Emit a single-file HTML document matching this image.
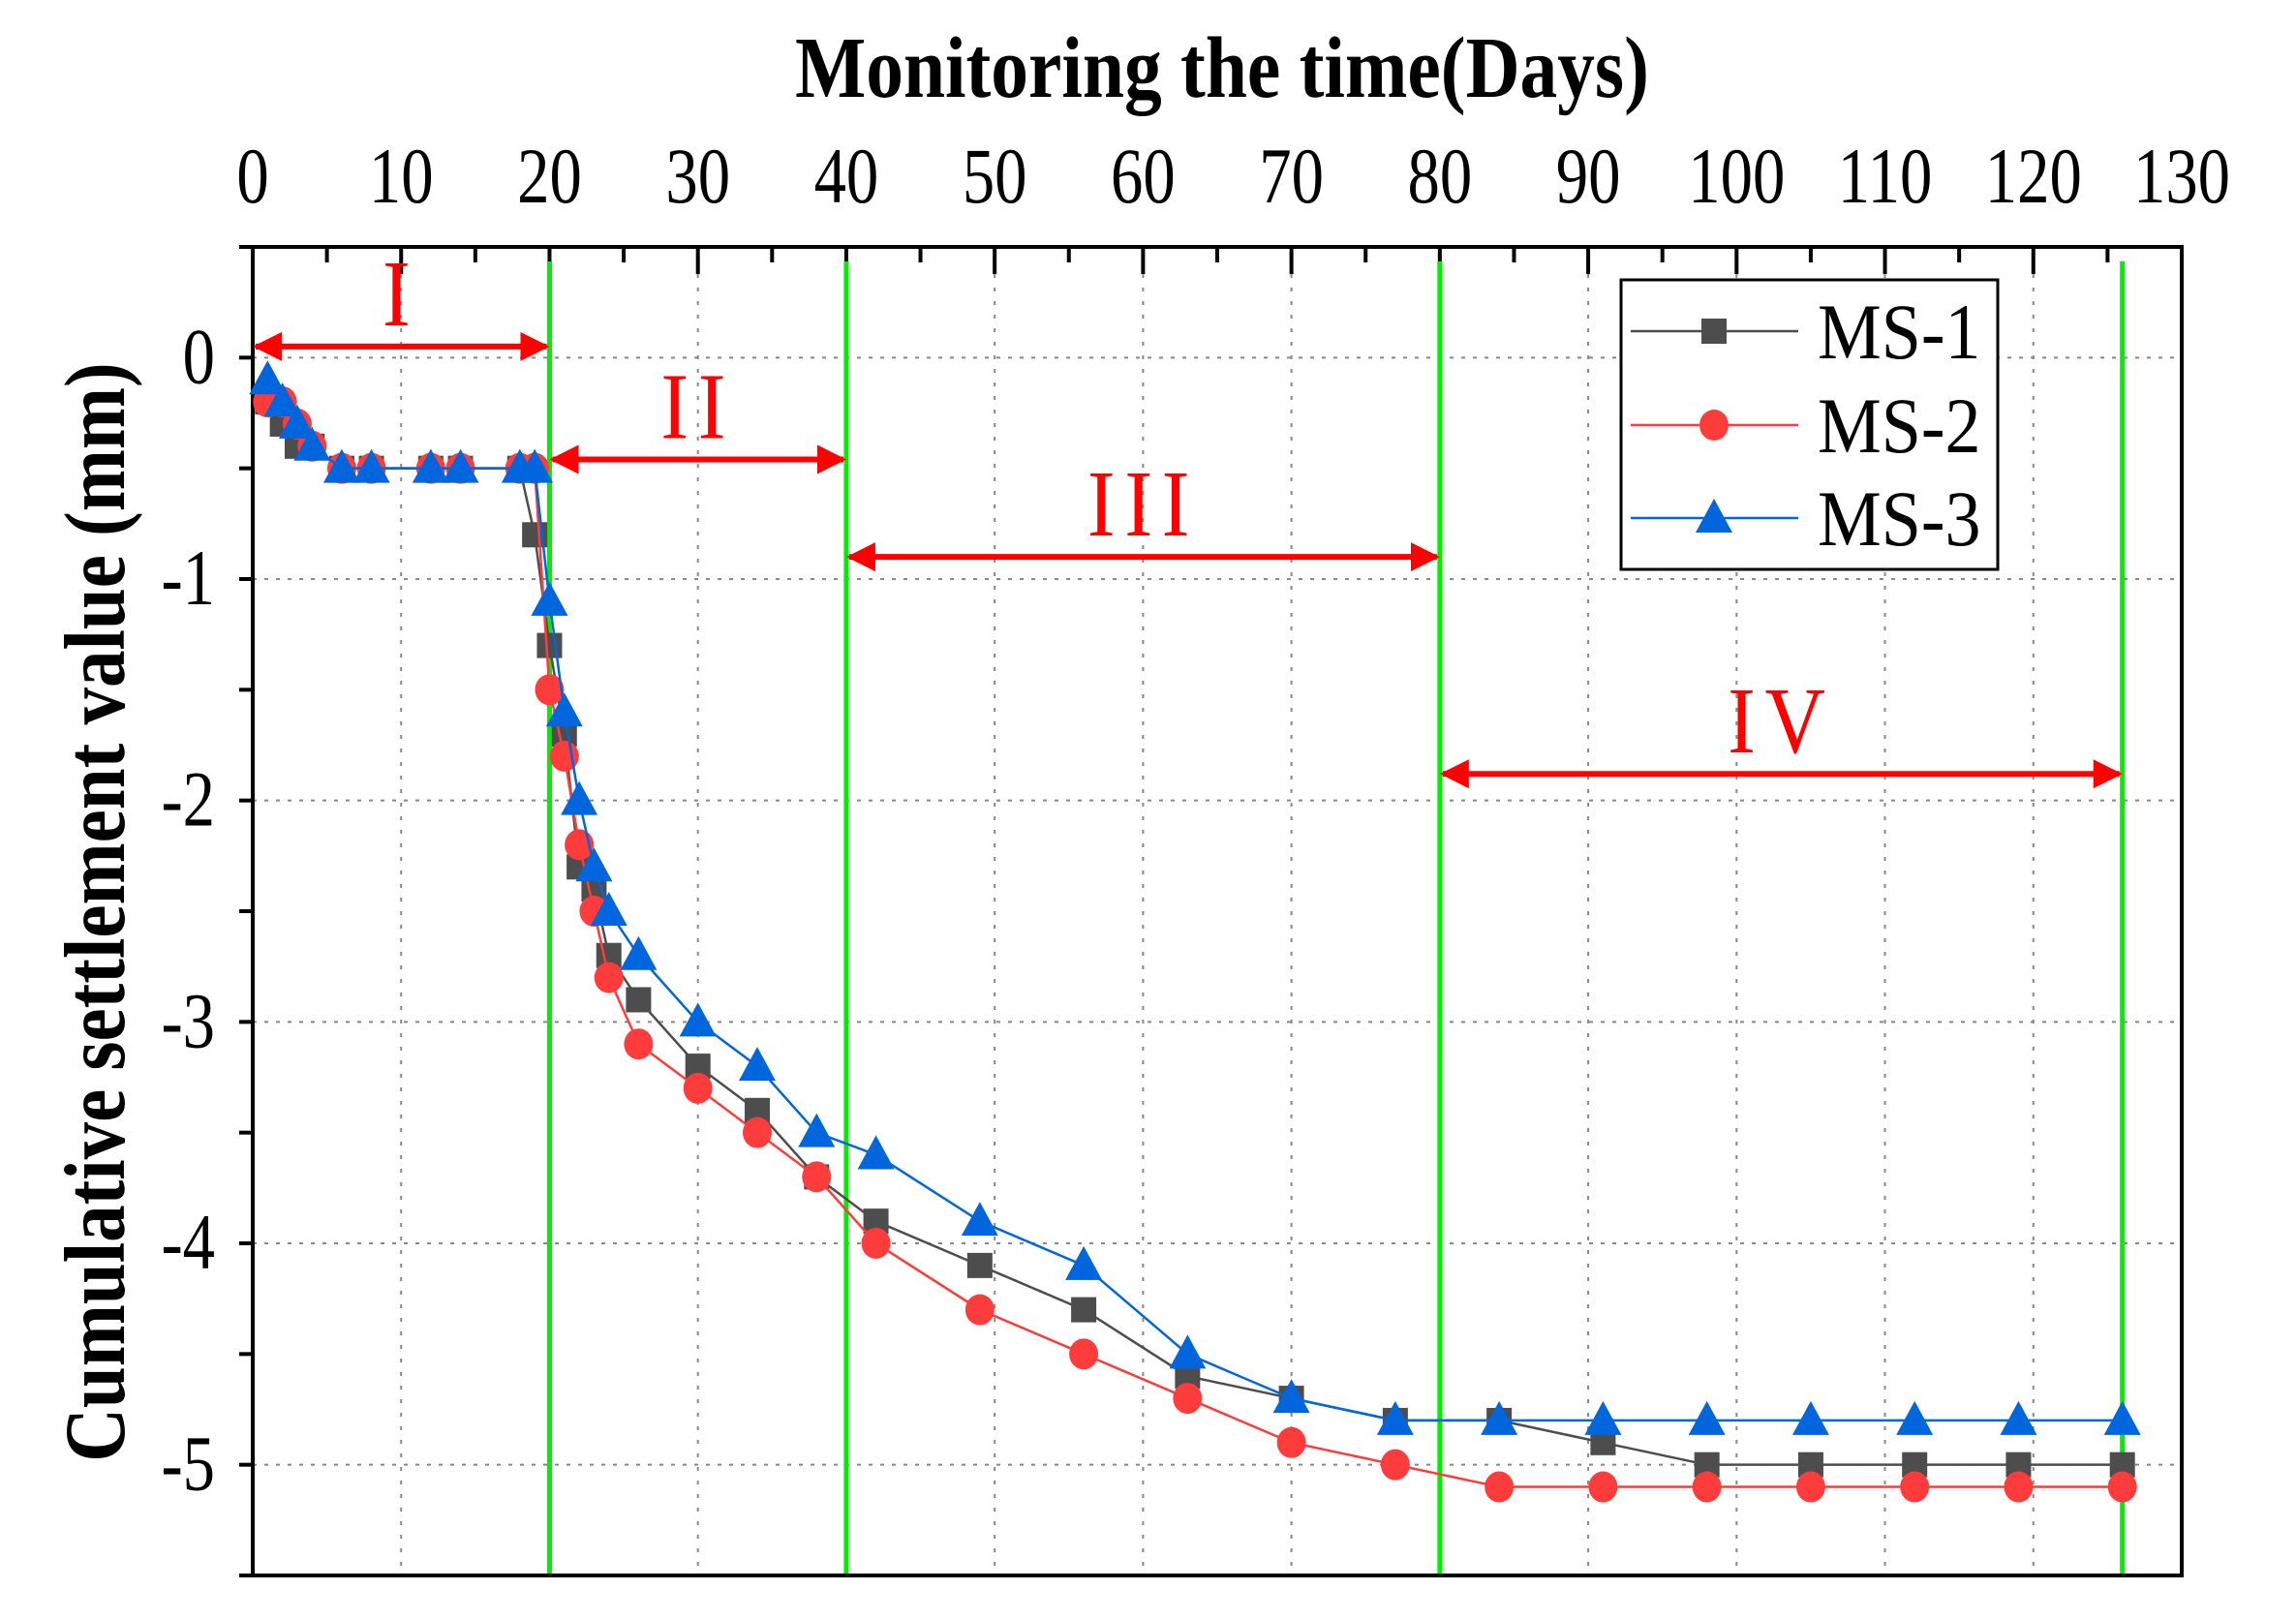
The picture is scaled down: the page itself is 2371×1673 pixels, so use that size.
<!DOCTYPE html>
<html><head><meta charset="utf-8"><style>
html,body{margin:0;padding:0;background:#fff}
svg{display:block;font-family:"Liberation Serif",serif}
</style></head><body>
<svg id="chart" width="2371" height="1673" viewBox="0 0 2371 1673" xmlns="http://www.w3.org/2000/svg">
<defs>
<marker id="ah" viewBox="0 0 10 10" refX="9" refY="5" markerWidth="5" markerHeight="5" orient="auto-start-reverse"><path d="M0,0 L10,5 L0,10 z" fill="#ff0000"/></marker>
</defs>
<g id="grid"></g>
<g id="axes"></g>
<g id="phases"></g>
<g id="series"></g>
<text transform="translate(1262,100) scale(1.21,1.4)" text-anchor="middle" font-size="64" font-weight="bold">Monitoring the time(Days)</text>
<text transform="translate(128,942) rotate(-90) scale(1,1.15)" text-anchor="middle" font-size="77" font-weight="bold">Cumulative settlement value (mm)</text>
<g id="legend"></g>
</svg>
<script>
const days = [1,2,3,4,6,8,12,14,18,19,20,21,22,23,24,26,30,34,38,42,49,56,63,70,77,84,91,98,105,112,119,126];
const ms1 = [-0.2,-0.3,-0.4,-0.4,-0.5,-0.5,-0.5,-0.5,-0.5,-0.8,-1.3,-1.7,-2.3,-2.4,-2.7,-2.9,-3.2,-3.4,-3.7,-3.9,-4.1,-4.3,-4.6,-4.7,-4.8,-4.8,-4.9,-5.0,-5.0,-5.0,-5.0,-5.0];
const ms2 = [-0.2,-0.2,-0.3,-0.4,-0.5,-0.5,-0.5,-0.5,-0.5,-0.5,-1.5,-1.8,-2.2,-2.5,-2.8,-3.1,-3.3,-3.5,-3.7,-4.0,-4.3,-4.5,-4.7,-4.9,-5.0,-5.1,-5.1,-5.1,-5.1,-5.1,-5.1,-5.1];
const ms3 = [-0.1,-0.2,-0.3,-0.4,-0.5,-0.5,-0.5,-0.5,-0.5,-0.5,-1.1,-1.6,-2.0,-2.3,-2.5,-2.7,-3.0,-3.2,-3.5,-3.6,-3.9,-4.1,-4.5,-4.7,-4.8,-4.8,-4.8,-4.8,-4.8,-4.8,-4.8,-4.8];
const xTicks = [0,10,20,30,40,50,60,70,80,90,100,110,120,130];
const yTicks = [0,-1,-2,-3,-4,-5];
const phaseBounds = [0,20,40,80,126];
const phaseLabels = ["I","II","III","IV"];
const phaseArrowY = [0.05,-0.46,-0.9,-1.88];

const NS="http://www.w3.org/2000/svg";
const X0=261,X1=2253,Y0=255,Y1=1627,XMIN=0,XMAX=130,YMAX=0.5,YMIN=-5.5;
const sx=v=>X0+(v-XMIN)/(XMAX-XMIN)*(X1-X0);
const sy=v=>Y0+(YMAX-v)/(YMAX-YMIN)*(Y1-Y0);
function mk(tag,attrs,parent,text){const e=document.createElementNS(NS,tag);for(const k in attrs)e.setAttribute(k,attrs[k]);if(text!==undefined)e.textContent=text;parent.appendChild(e);return e;}
const grid=document.getElementById('grid'),axes=document.getElementById('axes'),ph=document.getElementById('phases'),ser=document.getElementById('series'),leg=document.getElementById('legend');

xTicks.forEach(t=>{
  if(t>0&&t<130){const g=mk('line',{x1:sx(t),x2:sx(t),y1:Y0,y2:Y1,stroke:'#888','stroke-width':2,'stroke-dasharray':'4,10'},grid);
  
  }
  const tk=mk('line',{x1:sx(t),x2:sx(t),y1:Y0,y2:Y0+28,stroke:'#000','stroke-width':4},axes);
  
  
  const lb=mk('text',{transform:`translate(${sx(t)},209) scale(1.15,1.4)`,'text-anchor':'middle','font-size':58},axes,String(t));
  
  
});
for(let t=5;t<130;t+=10){const m=mk('line',{x1:sx(t),x2:sx(t),y1:Y0,y2:Y0+16,stroke:'#000','stroke-width':4},axes);
  
  }
yTicks.forEach(t=>{
  const g=mk('line',{x1:X0,x2:X1,y1:sy(t),y2:sy(t),stroke:'#888','stroke-width':2,'stroke-dasharray':'4,8'},grid);
  
  
  const tk=mk('line',{x1:X0-14,x2:X0,y1:sy(t),y2:sy(t),stroke:'#000','stroke-width':4},axes);
  
  
  const lb=mk('text',{transform:`translate(222,${sy(t)+26}) scale(1.15,1.4)`,'text-anchor':'end','font-size':58},axes,String(t));
  
  
});
for(let t=0.5;t>-5.6;t-=1){const m=mk('line',{x1:X0-14,x2:X0,y1:sy(t),y2:sy(t),stroke:'#000','stroke-width':4},axes);
  
  }
const fr=mk('rect',{x:X0,y:Y0,width:X1-X0,height:Y1-Y0,fill:'none',stroke:'#000','stroke-width':4},axes);



phaseBounds.forEach((b,i)=>{ if(i>0){const l=mk('line',{x1:sx(b),x2:sx(b),y1:Y0+15,y2:Y1-2,stroke:'#00ee00','stroke-width':5},ph);
  
  }});
phaseLabels.forEach((lab,i)=>{
  const a=phaseBounds[i],b=phaseBounds[i+1],y=sy(phaseArrowY[i]);
  const ar=mk('line',{x1:sx(a)+3,x2:sx(b)-3,y1:y,y2:y,stroke:'#ff0000','stroke-width':6,'marker-start':'url(#ah)','marker-end':'url(#ah)'},ph);
  
  
  const t=mk('text',{transform:`translate(${(sx(a)+sx(b))/2},${y-22}) scale(1.2,1.35)`,'text-anchor':'middle','font-size':72,fill:'#ff0000','letter-spacing':'8'},ph,lab);
  
  
});

function marker(type,x,y,color,parent){
  let e;
  if(type==='sq') e=mk('rect',{x:x-13,y:y-13,width:26,height:26,fill:color},parent);
  else if(type==='ci') e=mk('ellipse',{cx:x,cy:y,rx:15,ry:16,fill:color},parent);
  else e=mk('polygon',{points:`${x},${y-20} ${x-19},${y+15} ${x+19},${y+15}`,fill:color},parent);
  return e;
}
const S=[[ms1,'#4d4d4d','sq','ms-1'],[ms2,'#ff3c3c','ci','ms-2'],[ms3,'#0066dd','tri','ms-3']];
S.forEach(([vals,col,type,name])=>{
  const g=mk('g',{},ser);
  
  
  const pl=mk('polyline',{points:days.map((d,i)=>sx(d)+','+sy(vals[i])).join(' '),fill:'none',stroke:col,'stroke-width':2.5},g);
  
  
  days.forEach((d,i)=>{const m=marker(type,sx(d),sy(vals[i]),col,g);
    
    });
});

const lb=mk('rect',{x:1674,y:289,width:389,height:299,fill:'#fff',stroke:'#000','stroke-width':3},leg);


const ly=[342,439,535],ln=['MS-1','MS-2','MS-3'];
S.forEach(([vals,col,type,name],i)=>{
  const g=mk('g',{},leg);
  
  
  mk('line',{x1:1684,x2:1857,y1:ly[i],y2:ly[i],stroke:col,'stroke-width':2.5},g);
  marker(type,1770,ly[i],col,g);
  mk('text',{transform:`translate(1877,${ly[i]+28}) scale(1,1.1)`,'font-size':74},g,ln[i]);
});
</script>
</body></html>
